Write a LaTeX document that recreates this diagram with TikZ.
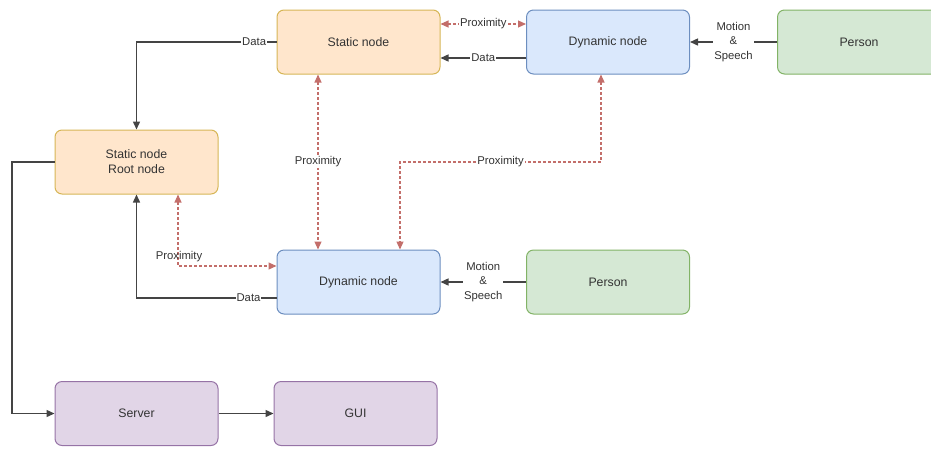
\documentclass[tikz,border=0pt]{standalone}
\usepackage{fontspec}
\setmainfont{Liberation Sans}
\usetikzlibrary{arrows.meta}
\definecolor{ofill}{HTML}{FFE6CC}\definecolor{ostroke}{HTML}{D6B656}
\definecolor{bfill}{HTML}{DAE8FC}\definecolor{bstroke}{HTML}{6C8EBF}
\definecolor{gfill}{HTML}{D5E8D4}\definecolor{gstroke}{HTML}{82B366}
\definecolor{pfill}{HTML}{E1D5E7}\definecolor{pstroke}{HTML}{9673A6}
\definecolor{redl}{HTML}{B85450}
\definecolor{txt}{HTML}{333333}
\definecolor{linec}{HTML}{444444}
\begin{document}
\begin{tikzpicture}[x=1pt,y=-1pt,
  box/.style={draw,line width=1pt,rounded corners=7pt,minimum width=163pt,minimum height=64pt,inner sep=0pt,align=center,font=\fontsize{12.3}{15}\selectfont,text=txt},
  obox/.style={box,fill=ofill,draw=ostroke},
  bbox/.style={box,fill=bfill,draw=bstroke},
  gbox/.style={box,fill=gfill,draw=gstroke},
  pbox/.style={box,fill=pfill,draw=pstroke},
  solid line/.style={draw=linec,line width=1.4pt,-{Triangle[length=8pt,width=7pt]}},
  prox/.style={draw=redl!85,line width=1.1pt,dash pattern=on 2.5pt off 2.5pt,{Triangle[length=8pt,width=7pt]}-{Triangle[length=8pt,width=7pt]}},
  lbl/.style={fill=white,inner sep=1pt,font=\fontsize{11.3}{14.5}\selectfont,text=txt,align=center}
]
\useasboundingbox (0,0) rectangle (931,448);
\begin{scope}
\clip (0,0) rectangle (931,448);
\node[obox] (st) at (358.5,42) {Static node};
\node[bbox] (dt) at (608,42) {Dynamic node};
\node[gbox] (pt) at (859,42) {Person};
\node[obox] (root) at (136.5,162) {Static node\\Root node};
\node[bbox] (db) at (358.5,282) {Dynamic node};
\node[gbox] (pb) at (608,282) {Person};
\node[pbox] (srv) at (136.5,413.5) {Server};
\node[pbox] (gui) at (355.5,413.5) {GUI};
\end{scope}

% Data: static top -> root
\draw[solid line] (st.west) -| node[lbl,pos=0.08]{Data} (root.north);
% Data: dynamic top -> static top
\draw[solid line] (dt.west |- 0,58) -- node[lbl]{Data} (st.east |- 0,58);
% Proximity top
\draw[prox] (st.east |- 0,24) -- node[lbl]{Proximity} (dt.west |- 0,24);
% Person top -> dynamic top
\draw[solid line] (pt.west) -- node[lbl]{Motion\\\&\\Speech} (dt.east);
% Proximity vertical static top <-> dynamic bottom
\draw[prox] (st.south -| 318,0) -- node[lbl]{Proximity} (db.north -| 318,0);
% Proximity dynamic top <-> dynamic bottom
\coordinate (c1) at (601,162);
\coordinate (c2) at (400,162);
\draw[prox] (dt.south -| 601,0) -- (c1) -- node[lbl]{Proximity} (c2) -- (db.north -| 400,0);
% Proximity root <-> dynamic bottom
\coordinate (c3) at (178,266);
\draw[prox] (root.south -| 178,0) -- (c3) -- (db.west |- 0,266);
\node[lbl,fill=none] (plab) at (179,257) {Proximity};
% Data: dynamic bottom -> root
\draw[solid line] (db.west |- 0,298) -| node[lbl,pos=0.1]{Data} (root.south);
% Person bottom -> dynamic bottom
\draw[solid line] (pb.west) -- node[lbl]{Motion\\\&\\Speech} (db.east);
% Root -> server
\coordinate (c4) at (12,162);
\coordinate (c5) at (12,413.5);
\draw[solid line] (root.west) -- (c4) -- (c5) -- (srv.west);
% Server -> GUI
\draw[solid line] (srv.east) -- (gui.west);
\end{tikzpicture}
\end{document}
